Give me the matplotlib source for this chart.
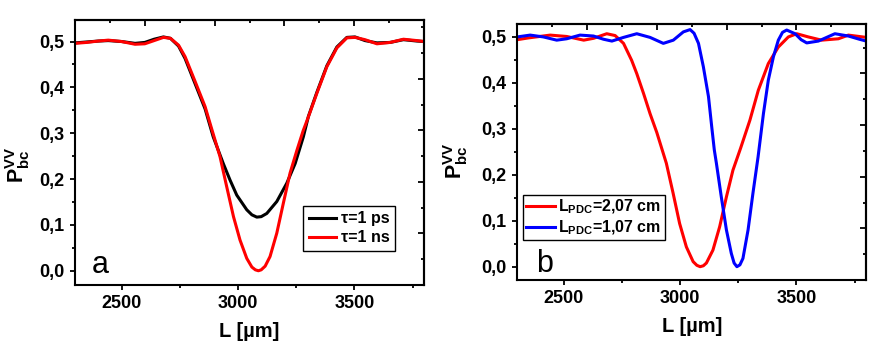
import matplotlib
matplotlib.use('Agg')
import matplotlib.pyplot as plt
import numpy as np

plt.rcParams['font.family'] = ['Liberation Sans', 'DejaVu Sans']
plt.rcParams['font.weight'] = 'bold'
plt.rcParams['mathtext.fontset'] = 'custom'
plt.rcParams['mathtext.rm'] = 'Liberation Sans:bold'
plt.rcParams['mathtext.bf'] = 'Liberation Sans:bold'
plt.rcParams['mathtext.it'] = 'Liberation Sans:bold'

# panel a: tau = 1 ns (red)
xa_ns = [2300, 2350, 2400, 2443, 2500, 2558, 2600, 2640, 2680, 2710, 2745, 2773, 2816, 2859,
         2887, 2923, 2952, 2981, 3009, 3038, 3060, 3075, 3088, 3100, 3117, 3138, 3167, 3195,
         3224, 3253, 3280, 3303, 3339, 3382, 3425, 3468, 3503, 3546, 3597, 3654, 3711, 3769,
         3800]
ya_ns = [0.496, 0.498, 0.501, 0.503, 0.500, 0.494, 0.495, 0.502, 0.509, 0.507, 0.492, 0.467,
         0.413, 0.358, 0.310, 0.249, 0.183, 0.118, 0.067, 0.027, 0.008, 0.002, 0.000, 0.002,
         0.010, 0.031, 0.082, 0.147, 0.213, 0.262, 0.305, 0.336, 0.387, 0.445, 0.486, 0.508,
         0.509, 0.504, 0.495, 0.498, 0.505, 0.502, 0.500]

# panel a: tau = 1 ps (black)
xa_ps = [2300, 2350, 2400, 2443, 2500, 2558, 2600, 2640, 2680, 2710, 2745, 2773, 2816, 2859,
         2894, 2937, 2966, 2995, 3038, 3060, 3081, 3100, 3124, 3167, 3210, 3246, 3281, 3303,
         3339, 3382, 3425, 3468, 3503, 3546, 3597, 3654, 3711, 3769, 3800]
ya_ps = [0.497, 0.499, 0.501, 0.502, 0.500, 0.496, 0.498, 0.505, 0.510, 0.507, 0.490, 0.463,
         0.408, 0.353, 0.292, 0.234, 0.198, 0.165, 0.133, 0.122, 0.117, 0.118, 0.125, 0.151,
         0.191, 0.234, 0.292, 0.337, 0.389, 0.447, 0.488, 0.509, 0.510, 0.502, 0.497, 0.498,
         0.504, 0.501, 0.500]

# panel b: L_PDC = 2,07 cm (red)
xb_207 = [2300, 2350, 2442, 2513, 2586, 2628, 2685, 2721, 2757, 2792, 2814, 2843, 2871, 2900,
          2941, 2970, 2998, 3027, 3056, 3072, 3086, 3100, 3113, 3141, 3170, 3199, 3227, 3260,
          3300, 3336, 3379, 3422, 3465, 3501, 3551, 3608, 3680, 3723, 3800]
yb_207 = [0.494, 0.498, 0.504, 0.501, 0.493, 0.497, 0.507, 0.503, 0.486, 0.449, 0.420, 0.377,
          0.333, 0.292, 0.225, 0.160, 0.094, 0.043, 0.011, 0.003, 0.000, 0.002, 0.008, 0.036,
          0.087, 0.152, 0.210, 0.258, 0.319, 0.384, 0.442, 0.478, 0.500, 0.507, 0.500, 0.493,
          0.496, 0.504, 0.499]

# panel b: L_PDC = 1,07 cm (blue)
xb_107 = [2300, 2356, 2413, 2470, 2513, 2570, 2628, 2671, 2707, 2757, 2814, 2871, 2928, 2971,
          3014, 3043, 3060, 3079, 3100, 3122, 3136, 3147, 3156, 3177, 3199, 3220, 3232, 3244,
          3257, 3270, 3292, 3313, 3335, 3358, 3379, 3401, 3422, 3440, 3458, 3494, 3520, 3544,
          3594, 3665, 3723, 3770, 3800]
yb_107 = [0.500, 0.504, 0.500, 0.493, 0.496, 0.504, 0.502, 0.495, 0.491, 0.499, 0.507, 0.499,
          0.486, 0.493, 0.511, 0.516, 0.508, 0.486, 0.435, 0.370, 0.304, 0.254, 0.225, 0.152,
          0.080, 0.029, 0.008, 0.000, 0.004, 0.018, 0.080, 0.160, 0.239, 0.333, 0.406, 0.457,
          0.493, 0.510, 0.515, 0.507, 0.494, 0.487, 0.491, 0.507, 0.502, 0.495, 0.491]

yticks = [0.0, 0.1, 0.2, 0.3, 0.4, 0.5]
ytick_labels = ['0,0', '0,1', '0,2', '0,3', '0,4', '0,5']
xticks = [2500, 3000, 3500]


def style_axes(ax, ylo, yhi, lab_x, lab_y):
    ax.set_xlim(2300, 3800)
    ax.set_ylim(ylo, yhi)
    ax.set_xticks(xticks)
    ax.set_xticklabels([str(t) for t in xticks])
    ax.set_xticks([2750, 3250, 3750], minor=True)
    ax.set_yticks(yticks)
    ax.set_yticklabels(ytick_labels)
    ax.set_yticks([0.05, 0.15, 0.25, 0.35, 0.45], minor=True)
    ax.tick_params(which='both', direction='out', top=False, right=False,
                   labelsize=13, width=1.3, pad=4)
    ax.tick_params(which='major', length=3.5)
    ax.tick_params(which='minor', length=2)
    for s in ax.spines.values():
        s.set_linewidth(1.5)
    ax.set_xlabel('L [µm]', fontsize=14.5, fontweight='bold', labelpad=7)
    ax.set_ylabel(r'$\mathbf{P}_{\mathbf{bc}}^{\mathbf{VV}}$', fontsize=15.5)
    ax.yaxis.set_label_coords(lab_x, lab_y)

    # mirrored axes (Origin style), ticks pointing inward
    top = ax.secondary_xaxis('top')
    tx = np.linspace(2300, 3800, 11)
    top.set_xticks(tx[2:-1:2])
    top.set_xticks(tx[1:-1:2], minor=True)
    top.tick_params(which='both', direction='in', labeltop=False, width=1.3)
    top.tick_params(which='major', length=4)
    top.tick_params(which='minor', length=2.2)
    top.spines['top'].set_linewidth(1.5)

    right = ax.secondary_yaxis('right')
    step = 0.0562
    ry = [ylo + step * k for k in range(1, 11)]
    right.set_yticks(ry[1:9:2])
    right.set_yticks([ry[0], ry[2], ry[4], ry[6], ry[8], ry[9]], minor=True)
    right.tick_params(which='both', direction='in', labelright=False, width=1.3)
    right.tick_params(which='major', length=4.5)
    right.tick_params(which='minor', length=2.5)
    right.spines['right'].set_linewidth(1.5)


fig = plt.figure(figsize=(8.84, 3.54), dpi=100)
ax1 = fig.add_axes([0.0848, 0.195, 0.395, 0.7486])
ax2 = fig.add_axes([0.585, 0.209, 0.395, 0.723])

ax1.plot(xa_ps, ya_ps, color='black', lw=2.2, label='τ=1 ps')
ax1.plot(xa_ns, ya_ns, color='red', lw=2.2, label='τ=1 ns')
style_axes(ax1, -0.031, 0.547, -0.123, 0.455)
leg1 = ax1.legend(loc='lower left', bbox_to_anchor=(0.654, 0.128),
                  fancybox=False, edgecolor='black', framealpha=1,
                  fontsize=11.5, handlelength=1.7, handletextpad=0.3, borderpad=0.35,
                  labelspacing=0.25, borderaxespad=0)
leg1.get_frame().set_linewidth(1.0)
ax1.text(0.048, 0.046, 'a', transform=ax1.transAxes, fontsize=22, fontweight='normal')

ax2.plot(xb_207, yb_207, color='red', lw=2.2, label=r'L$_{\mathbf{PDC}}$=2,07 cm')
ax2.plot(xb_107, yb_107, color='blue', lw=2.2, label=r'L$_{\mathbf{PDC}}$=1,07 cm')
style_axes(ax2, -0.029, 0.528, -0.135, 0.465)
leg2 = ax2.legend(loc='lower left', bbox_to_anchor=(0.017, 0.156),
                  fancybox=False, edgecolor='black', framealpha=1,
                  fontsize=11.5, handlelength=1.8, handletextpad=0.2, borderpad=0.2,
                  labelspacing=0.15, borderaxespad=0)
leg2.get_frame().set_linewidth(1.0)
ax2.text(0.055, 0.032, 'b', transform=ax2.transAxes, fontsize=22, fontweight='normal')

fig.savefig('out.png', dpi=100)
